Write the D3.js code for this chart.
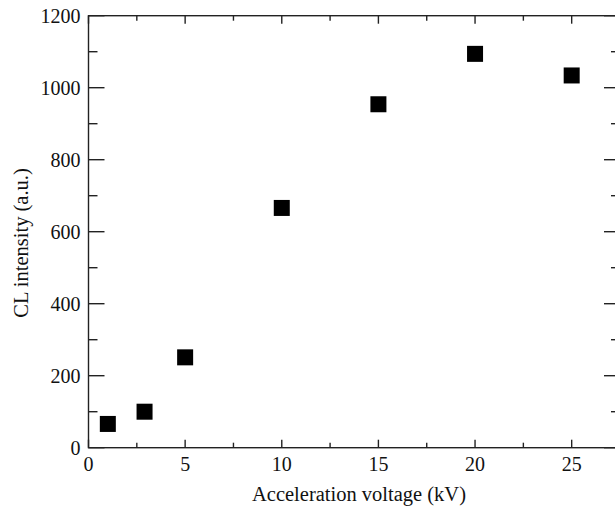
<!DOCTYPE html>
<html>
<head>
<meta charset="utf-8">
<script src="https://cdn.jsdelivr.net/npm/d3@7"></script>
<style>
	html, body { margin: 0; padding: 0; background: white; }
	svg { display: block; }
	text { font-family: "Liberation Serif", "Times New Roman", serif; fill: #111; }
</style>
</head>
<body>
<svg id="chart" width="615" height="508"></svg>
<script>
var voltage = [1, 2.9, 5, 10, 15, 20, 25];
var intensity = [66, 100, 251, 666, 954, 1094, 1034];
var xTicks = [0, 5, 10, 15, 20, 25];
var xMinorTicks = [2.5, 7.5, 12.5, 17.5, 22.5];
var yTicks = [0, 200, 400, 600, 800, 1000, 1200];
var yMinorTicks = [100, 300, 500, 700, 900, 1100];

var Chart = {
	plot: { left: 88.5, right: 620, top: 15.7, bottom: 447.7 },
	tick: { xMajor: 8, xMinor: 5, yMajor: 16, yMinor: 9 },

	svg: null,
	x: null,
	y: null,

	init: function() {
		var self = this;

		self.svg = d3.select("#chart");
		self.x = d3.scaleLinear().domain([0, 27.5]).range([self.plot.left, self.plot.right]);
		self.y = d3.scaleLinear().domain([0, 1200]).range([self.plot.bottom, self.plot.top]);

		self.drawFrame();
		self.drawLabels();
		self.drawPoints();
	},
	drawFrame: function() {
		var self = this;
		var p = self.plot;
		var t = self.tick;
		var frame = self.svg.append("g")
			.attr("class", "frame")
			.style("stroke", "#222")
			.style("stroke-width", 1.4)
			.style("fill", "none");

		frame.append("rect")
			.attr("x", p.left)
			.attr("y", p.top)
			.attr("width", p.right - p.left)
			.attr("height", p.bottom - p.top);

		// ticks point inward on all four sides
		function hTicks(values, len) {
			values.forEach(function(v) {
				frame.append("line") // bottom
					.attr("x1", self.x(v)).attr("x2", self.x(v))
					.attr("y1", p.bottom).attr("y2", p.bottom - len);
				frame.append("line") // top
					.attr("x1", self.x(v)).attr("x2", self.x(v))
					.attr("y1", p.top).attr("y2", p.top + len);
			});
		}
		function vTicks(values, len) {
			values.forEach(function(v) {
				frame.append("line") // left
					.attr("x1", p.left).attr("x2", p.left + len)
					.attr("y1", self.y(v)).attr("y2", self.y(v));
				frame.append("line") // right
					.attr("x1", p.right).attr("x2", p.right - len)
					.attr("y1", self.y(v)).attr("y2", self.y(v));
			});
		}
		hTicks(xTicks, t.xMajor);
		hTicks(xMinorTicks, t.xMinor);
		vTicks(yTicks, t.yMajor);
		vTicks(yMinorTicks, t.yMinor);
	},
	drawLabels: function() {
		var self = this;
		var p = self.plot;

		self.svg.append("g").selectAll("text")
			.data(xTicks)
			.enter()
			.append("text")
			.attr("x", function(d) { return self.x(d); })
			.attr("y", p.bottom + 23)
			.style("text-anchor", "middle")
			.style("font-size", "20px")
			.text(function(d) { return d; });

		self.svg.append("g").selectAll("text")
			.data(yTicks)
			.enter()
			.append("text")
			.attr("x", p.left - 8)
			.attr("y", function(d) { return self.y(d); })
			.attr("dy", "0.34em")
			.style("text-anchor", "end")
			.style("font-size", "20px")
			.text(function(d) { return d; });

		self.svg.append("text")
			.attr("x", 359)
			.attr("y", 501)
			.style("text-anchor", "middle")
			.style("font-size", "20.5px")
			.text("Acceleration voltage (kV)");

		self.svg.append("text")
			.attr("transform", "translate(28,243) rotate(-90)")
			.style("text-anchor", "middle")
			.style("font-size", "20.5px")
			.text("CL intensity (a.u.)");
	},
	drawPoints: function() {
		var self = this;
		var size = 16;

		self.svg.append("g").selectAll("rect")
			.data(voltage)
			.enter()
			.append("rect")
			.attr("x", function(d) { return self.x(d) - size / 2; })
			.attr("y", function(d, i) { return self.y(intensity[i]) - size / 2; })
			.attr("width", size)
			.attr("height", size)
			.style("fill", "#000");
	}
};

Chart.init();
</script>
</body>
</html>
